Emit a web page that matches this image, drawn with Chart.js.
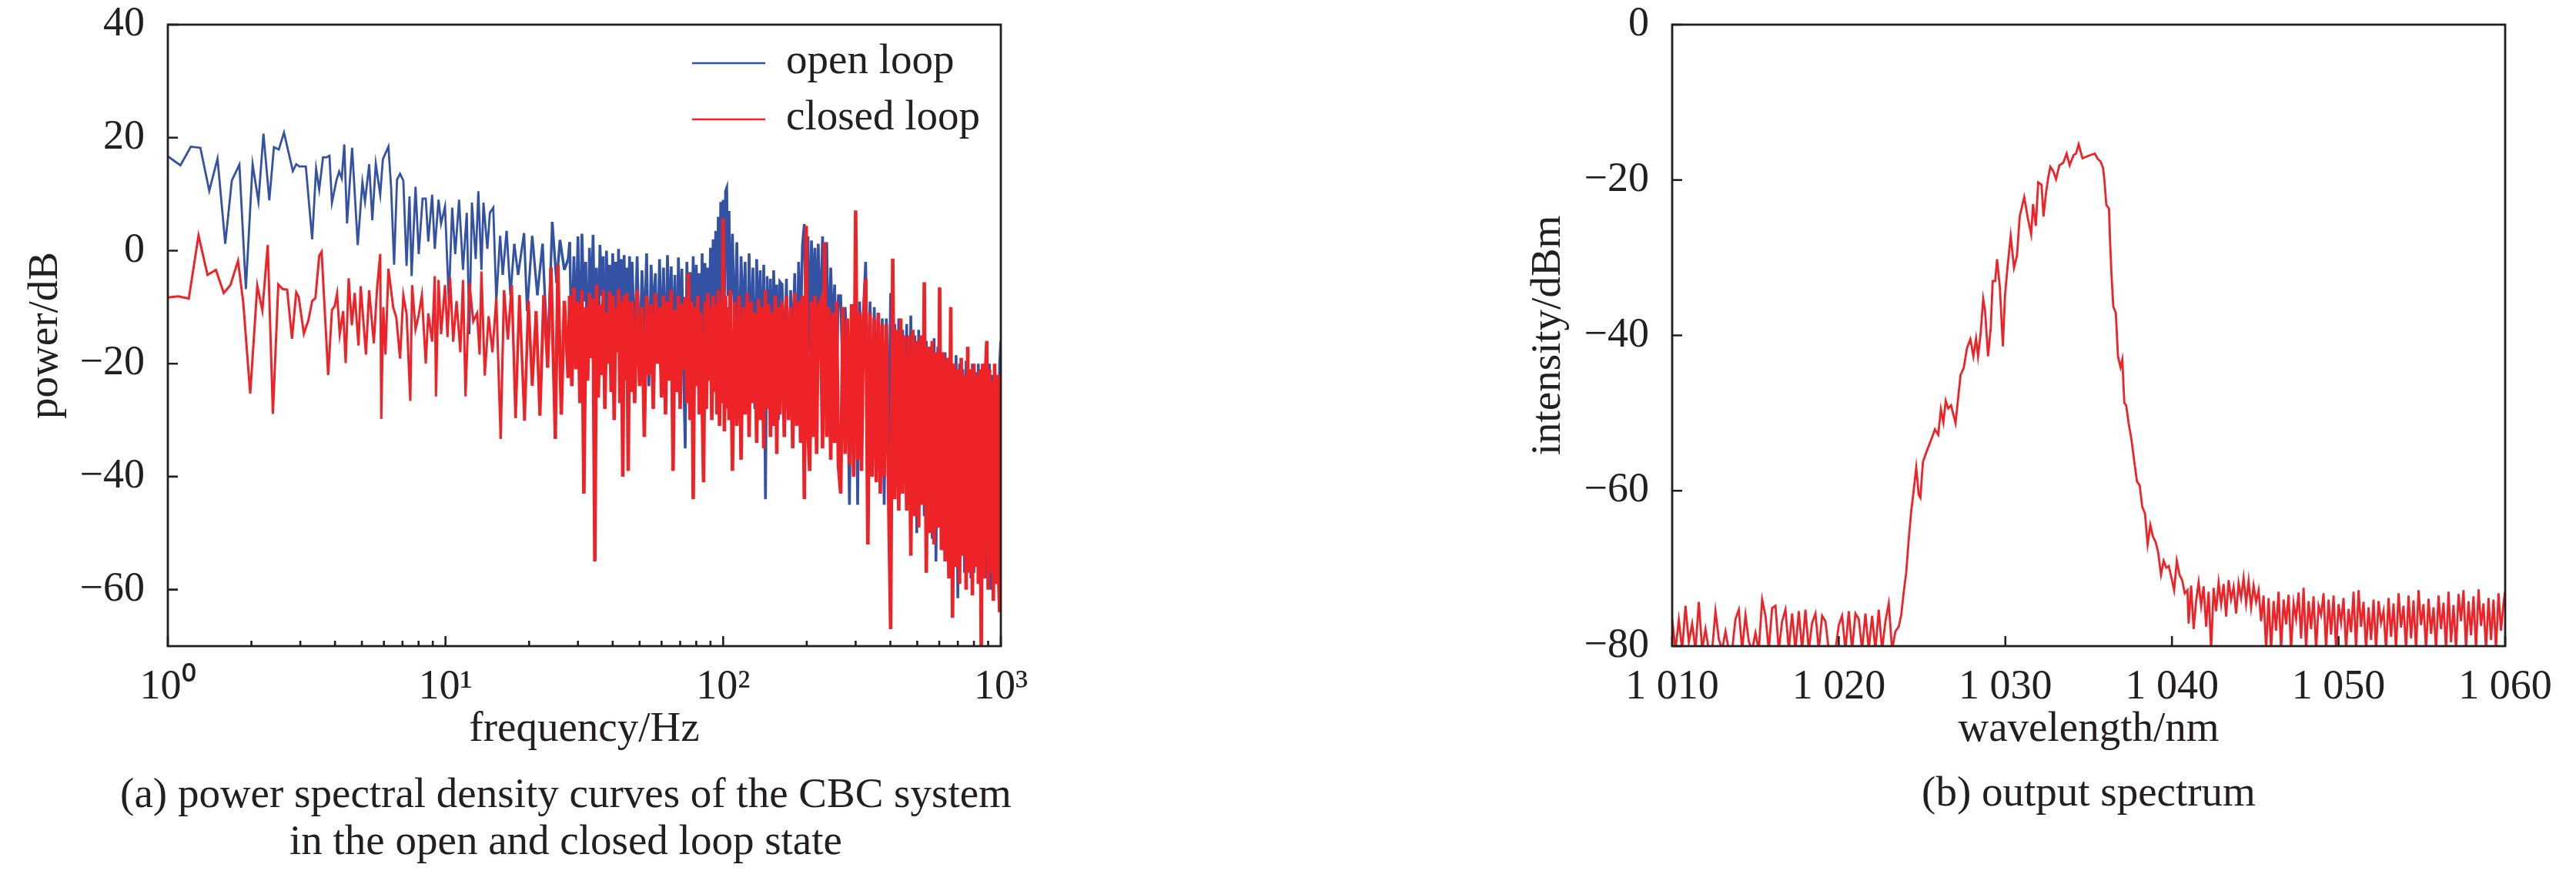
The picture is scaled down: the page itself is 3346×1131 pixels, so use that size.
<!DOCTYPE html>
<html>
<head>
<meta charset="utf-8">
<script src="https://cdn.jsdelivr.net/npm/chart.js@4.4.1/dist/chart.umd.min.js"></script>
<style>
  html, body { margin: 0; padding: 0; background: #fff; }
  #page { position: relative; width: 3346px; height: 1131px; overflow: hidden; background: #fff; }
  .panel { position: absolute; top: 0; width: 1673px; height: 1131px; }
  .cap { position: absolute; font-family: "Liberation Serif", "Times New Roman", serif; font-size: 55px; line-height: 61px; color: #231f20; text-align: center; white-space: nowrap; }
</style>
</head>
<body>
<div id="page">
  <div class="panel" style="left:0"><canvas id="psdChart"></canvas></div>
  <div class="panel" style="left:1673px"><canvas id="specChart"></canvas></div>
  <div class="cap" style="left:135px;top:999px;width:1200px">(a) power spectral density curves of the CBC system<br>in the open and closed loop state</div>
  <div class="cap" style="left:2213px;top:997px;width:1000px">(b) output spectrum</div>
</div>
<script>
// ─── (a) power spectral density ───
const lowFreqOpen = [1.00,1.11,1.21,1.31,1.41,1.51,1.61,1.70,1.81,1.91,2.02,2.12,2.21,2.32,2.41,2.51,2.62,2.82,2.90,2.98,
  3.14,3.31,3.42,3.51,3.62,3.72,3.82,3.90,4.05,4.14,4.23,4.32,4.42,4.61,4.83,5.02,5.13,5.31,5.45,5.61,
  5.82,5.95,6.23,6.37,6.53,6.69,6.86,7.05,7.24,7.42,7.55,7.80,8.01,8.27,8.49,8.67,8.95,9.15,9.44,9.64,
  9.96,10.28,10.57,10.84,11.19,11.56,11.93,12.19,12.45,12.85,13.13,13.47,13.70,14.15,14.45,14.86,15.24,15.73,16.07,16.60,
  17.14,17.69,18.26,19.18,19.68,20.53,21.42,22.36,23.33,24.24,25.13,25.84,26.79,27.66];
const lowOpen = [16.7,15.1,18.4,18.2,10.6,16.3,1.2,12.4,15.2,-6.8,15.3,8.7,20.7,8.9,18.3,17.9,20.9,14.1,15.3,14.9,
  14.9,2.0,14.5,10.8,16.5,16.5,16.8,8.5,12.5,14.0,12.8,18.8,4.8,18.2,1.0,12.1,8.7,15.3,5.4,15.4,
  9.9,16.2,18.4,11.2,-2.5,12.6,13.6,12.4,-2.7,9.6,-4.5,11.3,-0.6,9.2,9.2,1.6,9.9,0.3,9.0,4.8,
  7.8,-8.9,7.6,-0.6,9.0,-3.4,6.7,-14.8,8.5,-1.5,10.5,-3.4,8.5,0.3,6.7,7.6,-8.9,2.6,-4.3,3.5,
  -7.9,1.2,-4.3,3.1,-10.7,2.6,-7.9,1.2,-18.9,5.1,-5.7,1.9,-3.4,-1.5];
const lowFreqClosed = [1.00,1.09,1.19,1.29,1.39,1.49,1.59,1.68,1.79,1.87,1.98,2.10,2.19,2.29,2.39,2.50,2.59,2.69,2.80,2.90,
  2.96,3.09,3.21,3.31,3.40,3.51,3.58,3.78,3.90,3.99,4.07,4.16,4.28,4.37,4.48,4.60,4.71,4.86,4.95,5.17,
  5.31,5.52,5.67,5.82,5.87,5.97,6.08,6.23,6.48,6.65,6.86,7.05,7.24,7.47,7.58,7.80,8.01,8.22,8.49,8.67,
  8.95,9.15,9.24,9.44,9.64,9.96,10.17,10.39,10.66,10.96,11.31,11.56,11.81,12.19,12.59,12.99,13.27,13.47,13.85,14.30,
  14.76,15.24,15.80,16.25,16.77,17.32,17.88,18.46,19.26,19.89,20.53,21.20,21.88,22.59,23.33,23.99,24.86,25.40,26.12,26.79,
  27.66];
const lowClosed = [-8.3,-8.1,-8.5,2.7,-4.3,-3.4,-7.5,-6.1,-1.8,-9.3,-25.3,-6.2,-10.6,1.0,-28.9,-6.0,-6.8,-6.9,-15.6,-7.4,
  -8.2,-14.7,-12.3,-8.9,-8.4,-0.9,-0.2,-22.0,-10.5,-9.8,-7.6,-14.8,-10.7,-19.9,-4.9,-13.2,-7.5,-16.8,-6.3,-18.4,
  -7.0,-16.4,-6.6,-0.6,-29.8,-10.0,-18.4,-3.2,-10.0,-11.8,-19.1,-7.9,-11.1,-26.6,-6.1,-13.9,-11.4,-7.9,-20.0,-11.1,
  -16.1,-4.5,-25.8,-5.2,-14.8,-6.1,-15.3,-4.8,-16.1,-8.9,-18.0,-5.2,-25.8,-5.7,-12.5,-11.1,-18.4,-3.7,-22.1,-11.6,
  -18.0,-8.4,-33.3,-7.0,-15.7,-6.1,-29.6,-7.9,-30.1,-8.9,-23.9,-10.7,-29.2,-7.9,-20.7,-3.0,-33.3,-2.5,-29.0,-8.9,
  -22.5];

// dense part above ~28 Hz: envelope tops and bottoms as they appear
const highFreq = [28,28.5,29,29.5,30,30.5,31,31.5,32,32.5,33,33.5,34,34.5,35,35.5,36,36.5,37,37.5,38,38.5,39,39.5,40,40.5,41,41.5,42,42.5,43,43.5,44,44.5,45,45.5,46,46.5,
  47,48,49,50,51,52,53,54,55,56,57,58,59,60,61,62,63,64,65,66,67,68,69,70,71,72,73,74,75,76,77,78,79,80,81,82,83,84,85,86,87,88,89,90,91,92,93,94,95,96,97,98,99,100,101,102,103,104,105,106,
  108,110,112,114,116,118,120,122,124,126,128,130,132,134,136,138,140,142,144,146,148,150,152,154,156,158,160,
  163,166,169,172,175,178,181,184,187,190,193,196,199,202,205,208,211,214,217,220,
  224,228,232,236,240,244,248,252,256,260,
  265,270,275,280,285,290,295,300,305,310,315,320,
  326,332,338,344,350,356,362,368,374,380,
  387,394,401,408,415,422,429,436,443,450,
  458,466,474,482,490,498,506,514,522,530,
  539,548,557,566,575,584,593,602,611,620,
  630,640,650,660,670,680,690,700,710,720,730,740,750,760,770,780,790,800,810,820,830,840,850,860,870,880,890,900,910,920,930,940,950,960,970,980,990,1000];
const highOpen = [1.5,-18,-1,-14,2.5,-20,3,-9,-2,-22,0.5,-12,2.8,-16,-3,-19,1,-8,-1,-28,0,-13,-2.5,-21,-0.5,-11,-2,-17,0.3,-24,-1.5,-10,-0.8,-19,-3,-14,-1,-22,
  -2,-18,-1,-21,-3.5,-15,-0.5,-24,-2.5,-12,-4,-20,-1.5,-17,-3,-23,-0.8,-14,-2.8,-19,-4.3,-25,-1.2,-16,-3.2,-21,-35,-2,-13,-3.8,
  -18,-1,-22,-2.5,-15,-4,-20,-0.5,-24,-2.2,-14,-3,-19,0.5,-18,2,-14,3.5,-20,6,-12,8.6,-16,9,-10,10.5,11.1,-8,7,-12,
  3,-16,1.5,-22,-1,-13,-2,-25,-0.5,-18,-3,-28,-1.5,-15,-3.5,-24,-2.5,-44,-4.5,-20,-5,-27,-3.5,-17,-6,-30,-5.5,
  -6,-20,-5,-26,-7,-18,-4,-23,-2,-15,1,4.7,-12,2.5,-18,1.8,-10,0.5,-16,1.2,
  -14,2.5,-9,1.5,-20,-3,-15,-6,-22,-8,
  -8,-24,-10,-20,-45,-11,-27,-12,-45,-9,-22,-11,
  -2,-30,-9,-35,-10,-26,-11,-38,-12,-45,
  -12,-36,-7.5,-40,-13,-32,-12,-42,-14,-38,
  -13,-44,-11.5,-40,-15,-50,-14,-42,-16,-47,
  -16,-48,-17,-51,-15.5,-55,-17,-49,-18,-53,
  -18,-54,-19,-50,-20,-56,-18.5,-61.5,-20,-52,-21,-57,-19.5,-53,-22,-58,-20,-57,-21.5,-55,-20,-59,-22.5,-54,-21,-58,-22,-56,-20,-60,-22,-57.4,-21,-55,-23,-58,-20,-16];
const highClosed = [-8,-24,-6.5,-21,-9,-27,-7,-43,-10,-23,-7.5,-19,-8.5,-55,-6,-26,-9.5,-22,-7,-28,-11,-20,-7.2,-25,-8,-30,-10,-18,-6.8,-27,-9,-40,-8,-23,-7.5,-39,-9,-25,
  -9,-27,-7,-24,-10,-33,-8,-22,-9.5,-28,-7.5,-20,-10,-26,-8,-29,-9,-23,-7,-39,-10.5,-25,-8,-28,-9.5,-21,-8.2,-27,-4,-30,
  -9,-44,-10,-24,-8,-29,-11,-26,-41,-9,-28,-7.5,-23,-10,-30,-8,-25,-9.5,-29,-7,-31,-9,-27,5.7,-32,-8,-28,-10,-30,-7,
  -39,-9,-31,-8,-37,-10,-29,-7.5,-33,-9,-27,-11,-34,-8.5,-30,-10,-35,-7,-28,-9.5,-33,-11,-31,-8,-36,-10,-29,
  -9,-33,-8,-30,-10,-35,-7.5,-31,-9,-34,-8,-44,4.4,-32,-39,-9,-33,-8,-36,-10,
  -9,-35,1.5,-33,-10,-37,-11,-34,-9,-38,
  -43,-10,-36,-12,-38,-9.5,-40,7.1,-37,-11,-39,-12,
  -5,-52,-11,-40,-12,-41,-11,-43,-13,-40,
  -13,-42,-67,-1.4,-44,-14,-46,-12,-43,-15,
  -46,-15,-54,-14,-47,-16,-49,-15,-45,-5.6,
  -57,-17,-50,-16,-52,-18,-49,-6.5,-53,-18,
  -55,-19,-58,-10,-65,-20,-56,-21,-59,-19,-54,-22,-60,-17,-57,-21,-61,-20,-56,-22,-59,-21,-72,-20,-58,-22,-16,-60,-21,-57,-23,-62,-20,-59,-22,-56,-64,-22];

const freqTicks = [1,2,3,4,5,6,7,8,9,10,20,30,40,50,60,70,80,90,100,200,300,400,500,600,700,800,900,1000];
const freqMajor = [1, 10, 100, 1000];
const freqTickLabels = ['10\u2070', '10\u00b9', '10\u00b2', '10\u00b3'];
const powerTicks = [-60, -40, -20, 0, 20, 40];

// ─── (b) output spectrum ───
const wlLeft = [1010.0,1010.2,1010.4,1010.6,1010.8,1011.0,1011.2,1011.4,1011.6,1011.8,1012.0,1012.2,1012.4,1012.6,1012.8,1013.0,1013.2,1013.4,1013.6,1013.8,
  1014.0,1014.2,1014.4,1014.6,1014.8,1015.0,1015.2,1015.4,1015.6,1015.8,1016.0,1016.2,1016.4,1016.6,1016.8,1017.0,1017.2,1017.4,1017.6,1017.8,
  1018.0,1018.2,1018.4,1018.6,1018.8,1019.0,1019.2,1019.4,1019.6,1019.8,1020.0,1020.2,1020.4,1020.6,1020.8,1021.0,1021.2,1021.4,1021.6,1021.8,
  1022.0,1022.2,1022.4,1022.6,1022.8,1023.0,1023.2,1023.4,1023.6];
const dbmLeft = [-76.5,-80.5,-76.6,-80.5,-74.8,-79.5,-77.1,-80.5,-74.3,-80.5,-77.8,-80.5,-80.5,-75.5,-79.1,-80.5,-78.1,-80.5,-80.5,-76.5,
  -75.3,-80.5,-76.0,-79.4,-80.5,-78.3,-80.5,-74.0,-76.1,-80.5,-75.1,-74.8,-80.5,-76.8,-75.3,-80.5,-75.8,-80.5,-75.5,-80.5,
  -75.3,-80.5,-77.0,-75.8,-80.5,-76.1,-76.8,-80.5,-80.5,-80.5,-77.3,-76.1,-80.5,-75.5,-80.5,-75.8,-76.5,-80.5,-75.8,-80.5,
  -76.1,-80.5,-75.3,-80.5,-76.8,-74.5,-80.5,-78.1,-77.5];
const wlBand = [1023.75,1023.90,1024.05,1024.20,1024.35,1024.50,1024.65,1024.80,1024.90,1025.05,1025.30,1025.62,1025.77,1025.97,1026.13,1026.28,1026.42,1026.57,1026.74,1027.01,
  1027.16,1027.31,1027.50,1027.70,1027.90,1028.08,1028.24,1028.36,1028.51,1028.67,1028.78,1028.96,1029.12,1029.24,1029.39,1029.50,1029.67,1029.85,1029.98,1030.13,
  1030.32,1030.52,1030.70,1030.86,1031.13,1031.35,1031.55,1031.66,1031.83,1031.97,1032.17,1032.29,1032.43,1032.58,1032.70,1032.86,1033.04,1033.24,1033.47,1033.68,
  1033.86,1034.09,1034.24,1034.40,1034.63,1034.86,1035.09,1035.37,1035.55,1035.71,1035.86,1035.94,1036.06,1036.22,1036.29,1036.37,1036.48,1036.63,1036.76,1036.91,
  1037.02,1037.14,1037.25,1037.40,1037.56,1037.74,1037.90,1038.06,1038.22,1038.38,1038.54,1038.70,1038.86,1039.02,1039.17,1039.34,1039.50,1039.66,1039.81,1039.97,
  1040.13,1040.29,1040.45,1040.61,1040.77,1040.93];
const dbmBand = [-76.0,-73.0,-70.5,-66.2,-62.6,-59.9,-57.0,-60.5,-60.9,-56.3,-54.8,-53.0,-52.1,-52.8,-49.5,-51.2,-48.4,-49.4,-49.0,-51.3,
  -48.2,-45.1,-44.2,-41.6,-40.5,-42.7,-40.4,-42.7,-39.9,-35.3,-36.8,-42.7,-39.1,-33.0,-33.0,-30.2,-33.8,-41.4,-34.8,-31.2,
  -27.2,-31.3,-29.7,-24.7,-22.2,-24.9,-27.0,-23.1,-25.9,-20.3,-20.6,-24.7,-21.8,-19.6,-18.3,-18.8,-19.9,-18.1,-17.8,-16.6,
  -18.1,-16.8,-16.6,-15.4,-17.2,-17.0,-16.8,-16.6,-17.3,-17.6,-18.4,-19.9,-23.2,-23.7,-28.2,-32.2,-36.3,-37.1,-42.7,-44.1,
  -43.1,-48.7,-49.0,-51.3,-53.3,-56.3,-58.8,-59.3,-62.1,-62.9,-66.9,-64.4,-65.9,-66.6,-67.9,-70.8,-69.0,-69.9,-69.7,-71.2,
  -72.8,-69.0,-70.8,-71.5,-73.2,-72.8];
const wlRight = [1041.00,1041.15,1041.30,1041.45,1041.60,1041.75,1041.90,1042.05,1042.20,1042.35,1042.50,1042.65,1042.80,1042.95,1043.10,1043.25,1043.40,1043.55,1043.70,1043.85,
  1044.00,1044.15,1044.30,1044.45,1044.60,1044.75,1044.90,1045.05,1045.20,1045.35,1045.50,1045.65,1045.80,1045.95,1046.10,1046.25,1046.40,1046.55,1046.70,1046.85,
  1047.00,1047.15,1047.30,1047.45,1047.60,1047.75,1047.90,1048.05,1048.20,1048.35,1048.50,1048.65,1048.80,1048.95,1049.10,1049.25,1049.40,1049.55,1049.70,1049.85,
  1050.00,1050.15,1050.30,1050.45,1050.60,1050.75,1050.90,1051.05,1051.20,1051.35,1051.50,1051.65,1051.80,1051.95,1052.10,1052.25,1052.40,1052.55,1052.70,1052.85,
  1053.00,1053.15,1053.30,1053.45,1053.60,1053.75,1053.90,1054.05,1054.20,1054.35,1054.50,1054.65,1054.80,1054.95,1055.10,1055.25,1055.40,1055.55,1055.70,1055.85,
  1056.00,1056.15,1056.30,1056.45,1056.60,1056.75,1056.90,1057.05,1057.20,1057.35,1057.50,1057.65,1057.80,1057.95,1058.10,1058.25,1058.40,1058.55,1058.70,1058.85,
  1059.00,1059.15,1059.30,1059.45,1059.60,1059.75,1059.90,1060.00];
const dbmRight = [-77.1,-72.2,-77.8,-74.2,-71.8,-74.8,-72.3,-77.5,-73.0,-80.5,-72.5,-75.5,-71.8,-74.6,-72.0,-76.2,-71.5,-74.0,-72.4,-75.8,
  -71.9,-73.8,-71.2,-74.5,-71.6,-75.0,-72.2,-74.3,-72.8,-76.8,-73.5,-80.5,-73.8,-80.5,-74.2,-78.0,-73.0,-80.5,-74.0,-77.2,
  -73.4,-80.5,-74.5,-76.5,-73.1,-79.0,-72.5,-80.5,-74.2,-77.8,-73.6,-80.5,-74.8,-76.0,-73.2,-80.5,-74.0,-78.5,-73.5,-80.5,
  -74.6,-77.0,-73.8,-80.5,-75.2,-78.2,-73.0,-80.5,-72.8,-77.5,-74.3,-80.5,-75.0,-79.2,-74.0,-80.5,-74.2,-77.0,-75.5,-80.5,
  -73.8,-78.8,-74.5,-80.5,-73.2,-77.6,-74.8,-80.5,-73.5,-79.0,-74.1,-80.5,-72.8,-77.3,-74.6,-80.5,-73.9,-78.4,-75.0,-80.5,
  -73.5,-77.8,-74.4,-80.5,-73.0,-79.5,-74.7,-80.5,-73.3,-76.8,-72.8,-80.5,-74.2,-78.6,-73.6,-80.5,-72.7,-77.4,-74.5,-80.5,
  -73.8,-79.2,-74.0,-80.5,-73.2,-78.0,-74.5,-72.9];

const wlTicks = [1010, 1020, 1030, 1040, 1050, 1060];
const wlTickLabels = ['1 010', '1 020', '1 030', '1 040', '1 050', '1 060'];
const dbmTicks = [-80, -60, -40, -20, 0];

// ─── styling ───
const ink = '#231f20';
const blue = '#3452a4';
const red = '#ed2328';
const serif = '"Liberation Serif", "Times New Roman", serif';
Chart.defaults.font.family = serif;
Chart.defaults.color = ink;

const pts = (xs, ys) => xs.map((x, i) => ({ x, y: ys[i] }));
const minus = v => v < 0 ? '\u2212' + Math.abs(v) : String(v);
// the trace thickens into a solid band above ~15 Hz; ramp the stroke up to the dense stretch
const rampFrom = 15, denseFrom = highFreq[0];
const rampWidth = (thin, thick) => ctx => {
  const f = ctx.p0.parsed.x;
  if (f <= rampFrom) return thin;
  if (f >= denseFrom) return thick;
  const t = Math.log(f / rampFrom) / Math.log(denseFrom / rampFrom);
  return thin + (thick - thin) * t;
};

// box round the plot area + inward tick marks (bottom and left only)
const frameTicks = {
  id: 'frameTicks',
  afterDraw(chart) {
    const { ctx, chartArea: a, scales: { x, y } } = chart;
    ctx.save();
    ctx.strokeStyle = ink;
    ctx.lineWidth = 2.8;
    ctx.strokeRect(a.left, a.top, a.right - a.left, a.bottom - a.top);
    ctx.lineWidth = 2.6;
    ctx.beginPath();
    x.ticks.forEach(t => {
      const px = x.getPixelForValue(t.value);
      ctx.moveTo(px, a.bottom);
      ctx.lineTo(px, a.bottom - (t.major ? 13 : 7));
    });
    y.ticks.forEach(t => {
      const py = y.getPixelForValue(t.value);
      ctx.moveTo(a.left, py);
      ctx.lineTo(a.left + 13, py);
    });
    ctx.stroke();
    ctx.restore();
  }
};

// legend drawn as short lines with labels, top right inside the plot
const lineLegend = {
  id: 'lineLegend',
  afterDraw(chart, args, opts) {
    if (!opts.rows) return;
    const ctx = chart.ctx;
    ctx.save();
    ctx.font = '55px ' + serif;
    ctx.fillStyle = ink;
    ctx.textBaseline = 'alphabetic';
    chart.data.datasets.forEach((ds, i) => {
      const y = opts.rows[i];
      ctx.strokeStyle = ds.borderColor;
      ctx.lineWidth = 2.6;
      ctx.beginPath();
      ctx.moveTo(opts.x1, y);
      ctx.lineTo(opts.x2, y);
      ctx.stroke();
      ctx.fillText(ds.label, opts.textX, y + 13);
    });
    ctx.restore();
  }
};

const tickFont = { size: 54 };
const titleFont = { size: 55 };

// fixed axis boxes; drop the label overhang padding so the plot area sits where it should
function xAxis(extra) {
  return Object.assign({
    afterFit: s => { s.height = 160; s.paddingLeft = 0; s.paddingRight = 0; },
    grid: { display: false },
    border: { display: false },
  }, extra);
}
function yAxis(extra) {
  return Object.assign({
    afterFit: s => { s.width = 218; s.paddingTop = 0; s.paddingBottom = 0; },
    grid: { display: false },
    border: { display: false },
  }, extra);
}

// ─── (a) chart ───
new Chart(document.getElementById('psdChart'), {
  type: 'line',
  data: {
    datasets: [
      { label: 'open loop', data: pts(lowFreqOpen.concat(highFreq), lowOpen.concat(highOpen)),
        borderColor: blue, borderWidth: 2.8, pointRadius: 0, tension: 0, clip: 0, order: 2,
        segment: { borderWidth: rampWidth(2.8, 3.6) } },
      { label: 'closed loop', data: pts(lowFreqClosed.concat(highFreq), lowClosed.concat(highClosed)),
        borderColor: red, borderWidth: 3.0, pointRadius: 0, tension: 0, clip: 0, order: 1,
        segment: { borderWidth: rampWidth(3.0, 4.6) } }
    ]
  },
  options: {
    responsive: true, maintainAspectRatio: false, animation: false,
    layout: { padding: { left: 0, top: 32, right: 373, bottom: 132 } },
    plugins: {
      legend: { display: false }, tooltip: { enabled: false },
      lineLegend: { x1: 899, x2: 994, textX: 1021, rows: [82, 155] }
    },
    scales: {
      x: xAxis({
        type: 'logarithmic', min: 1, max: 1000,
        afterBuildTicks: s => { s.ticks = freqTicks.map(v => ({ value: v, major: freqMajor.includes(v) })); },
        ticks: { autoSkip: false, maxRotation: 0, minRotation: 0, padding: 13, font: tickFont, color: ink,
          callback: v => { const i = freqMajor.indexOf(v); return i < 0 ? '' : freqTickLabels[i]; } },
        title: { display: true, text: 'frequency/Hz', font: titleFont, color: ink, padding: { top: 0, bottom: 18 } }
      }),
      y: yAxis({
        type: 'linear', min: -70, max: 40,
        afterBuildTicks: s => { s.ticks = powerTicks.map(v => ({ value: v, major: true })); },
        ticks: { padding: 22, font: tickFont, color: ink, callback: minus },
        title: { display: true, text: 'power/dB', font: titleFont, color: ink, padding: { top: 27, bottom: 0 } }
      })
    }
  },
  plugins: [frameTicks, lineLegend]
});

// ─── (b) chart ───
new Chart(document.getElementById('specChart'), {
  type: 'line',
  data: {
    datasets: [
      { label: 'spectrum', data: pts(wlLeft.concat(wlBand, wlRight), dbmLeft.concat(dbmBand, dbmRight)),
        borderColor: red, borderWidth: 2.8, pointRadius: 0, tension: 0, clip: 0 }
    ]
  },
  options: {
    responsive: true, maintainAspectRatio: false, animation: false,
    layout: { padding: { left: 281, top: 32, right: 92, bottom: 132 } },
    plugins: { legend: { display: false }, tooltip: { enabled: false } },
    scales: {
      x: xAxis({
        type: 'linear', min: 1010, max: 1060,
        afterBuildTicks: s => { s.ticks = wlTicks.map(v => ({ value: v, major: true })); },
        ticks: { autoSkip: false, maxRotation: 0, minRotation: 0, padding: 13, font: tickFont, color: ink,
          callback: v => wlTickLabels[wlTicks.indexOf(v)] },
        title: { display: true, text: 'wavelength/nm', font: titleFont, color: ink, padding: { top: 0, bottom: 18 } }
      }),
      y: yAxis({
        type: 'linear', min: -80, max: 0,
        afterBuildTicks: s => { s.ticks = dbmTicks.map(v => ({ value: v, major: true })); },
        ticks: { padding: 22, font: tickFont, color: ink, callback: minus },
        title: { display: true, text: 'intensity/dBm', font: titleFont, color: ink, padding: { top: 25, bottom: 0 } }
      })
    }
  },
  plugins: [frameTicks]
});
</script>
</body>
</html>
